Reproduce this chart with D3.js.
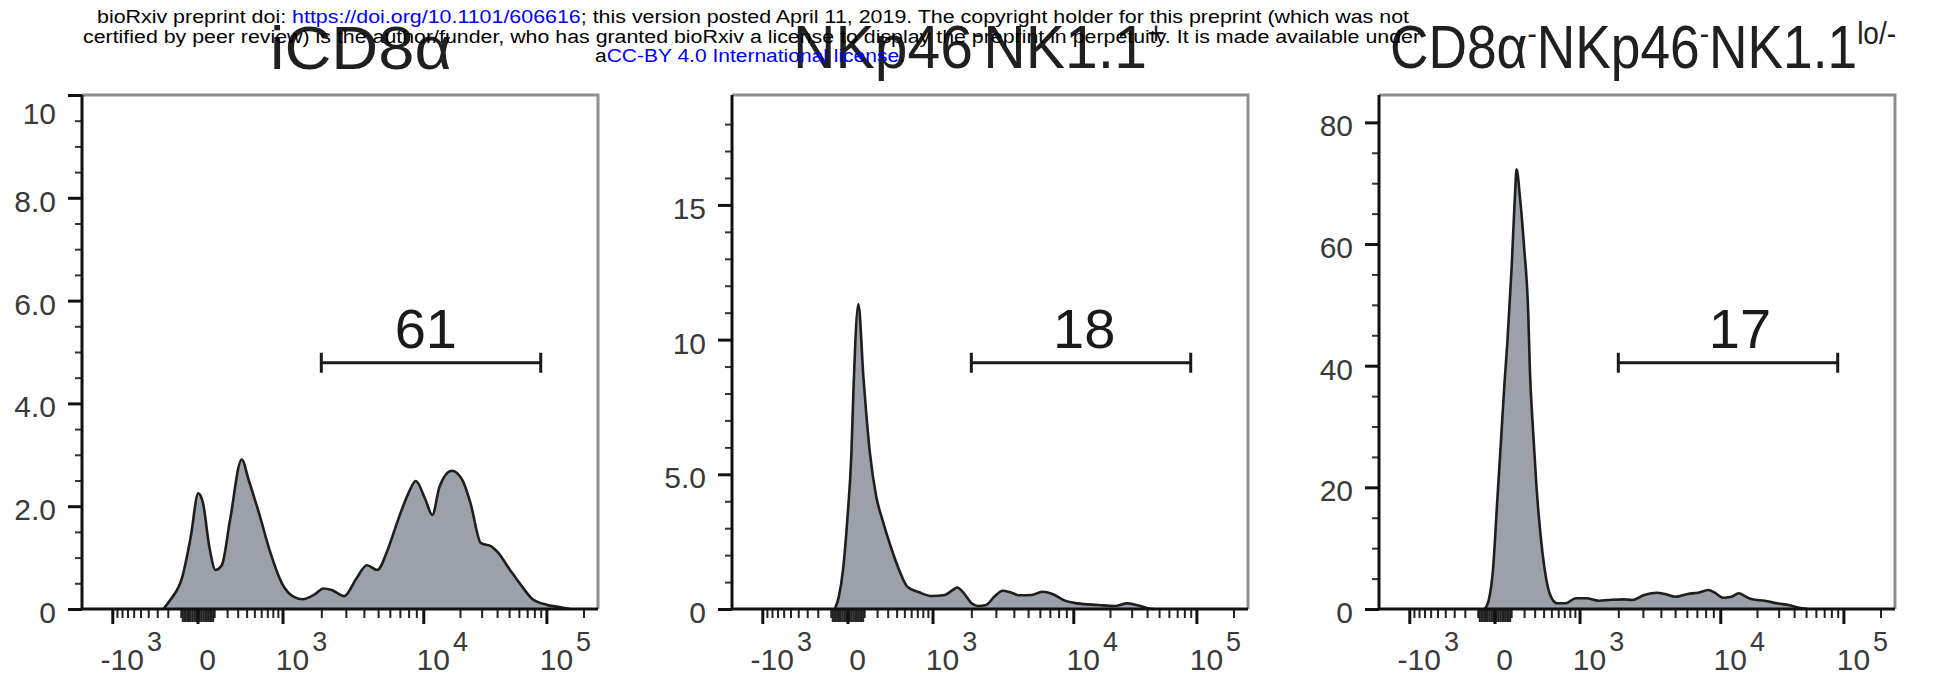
<!DOCTYPE html>
<meta charset="utf-8">
<style>
body { margin: 0; background: #fff; }
svg { display: block; font-family: "Liberation Sans", Arial, sans-serif; }
</style>
<body>
<svg width="1950" height="683"></svg>
<script src="https://d3js.org/d3.v7.min.js"></script>
<script>
// histograms: fluorescence (x) and % of max (y)
var cd8Fluor = [-240, -181, -89, -37, 4, 30, 68, 110, 156, 226, 343, 427, 568, 739, 987,
  1248, 1449, 1799, 2072, 2379, 2915, 3563, 4196, 4937, 5795, 6801, 7974, 8925, 10330, 11890,
  13600, 17180, 20890, 24400, 29630, 35900, 40300, 50900, 64000, 77500, 101700, 133400, 155400];
var cd8Count = [0, 0.17, 0.63, 1.40, 2.25, 2.06, 1.21, 0.76, 0.85, 1.73, 2.91, 2.5, 1.86, 1.15, 0.50,
  0.23, 0.19, 0.29, 0.40, 0.37, 0.25, 0.60, 0.85, 0.76, 1.15, 1.73, 2.25, 2.49, 2.15, 1.83,
  2.38, 2.69, 2.51, 2.05, 1.28, 1.22, 1.11, 0.76, 0.43, 0.19, 0.08, 0.03, 0];

var nkFluor = [-73, -48, -24, -1, 21, 33, 62, 95, 142, 193, 249, 333, 431, 542, 744, 993,
  1255, 1457, 1566, 1745, 2010, 2230, 2558, 2929, 3348, 3822, 4357, 5290, 6210, 7287, 8805,
  10790, 16000, 21800, 27550, 33400, 40540, 45500];
var nkCount = [0, 0.46, 1.45, 3.30, 5.78, 8.2, 11.32, 8.6, 5.78, 4.17, 3.30, 2.31, 1.45, 0.83, 0.61, 0.48,
  0.52, 0.71, 0.80, 0.61, 0.21, 0.11, 0.15, 0.46, 0.68, 0.61, 0.51, 0.52, 0.64, 0.56, 0.31,
  0.21, 0.15, 0.11, 0.21, 0.14, 0.03, 0];

var lowFluor = [-55, -31, -8, 14, 37, 55, 75, 103, 127, 139, 165, 200, 237, 253, 277, 319, 366, 414,
  495, 586, 721, 922, 1137, 1424, 1709, 2186, 2509, 3070, 3750, 4270, 5022, 6088, 7143, 8373,
  9200, 10550, 12350, 14200, 16240, 18240, 23020, 29090, 36660, 46260, 51930];
var lowCount = [0, 1.48, 6.4, 17.4, 28.3, 36.5, 44, 56, 68, 72.3, 67.8, 59.5, 48.6, 39, 31.1, 20.1, 11.9, 6.4,
  2.0, 0.94, 0.94, 1.76, 1.76, 1.36, 1.48, 1.59, 1.48, 2.30, 2.68, 2.47, 2.02, 2.47, 2.68, 3.12,
  2.68, 1.86, 2.02, 2.58, 2.02, 1.59, 1.36, 0.94, 0.61, 0.11, 0];

// panel titles, as [text, superscript?] pieces
var titleParts = [
  [["iCD8α", 0]],
  [["NKp46", 0], ["-", 1], ["NK1.1", 0], ["+", 1]],
  [["CD8α", 0], ["-", 1], ["NKp46", 0], ["-", 1], ["NK1.1", 0], ["lo/-", 1]]
];

// gates
var gateText = ["61", "18", "17"];
var gateFrom = [2000, 2000, 2000];
var gateTo = [90000, 90000, 90000];
var gateLevel = [4.79, 9.14, 40.5];
var gateLabelAt = [10500, 12300, 14500];

// y axes
var yMax = [10, 19.08, 84.5];
var yMajor = [[0, 2, 4, 6, 8, 10], [0, 5, 10, 15], [0, 20, 40, 60, 80]];
var yLabels = [["0", "2.0", "4.0", "6.0", "8.0", "10"], ["0", "5.0", "10", "15"], ["0", "20", "40", "60", "80"]];
var yMinorStep = [0.5, 1, 5];

// x axis (biexponential, shared)
var xMajor = [-1000, 0, 1000, 10000, 100000];
var xBase = ["-10", "0", "10", "10", "10"];
var xExp = ["3", "", "3", "4", "5"];
var xBreaks = [-1000, 0, 1000, 10000, 100000, 262144];
var xBreakFrac = [0.0587, 0.2238, 0.3886, 0.6614, 0.9, 1];

var headerLines = [
  [["bioRxiv preprint doi: ", 0], ["https://doi.org/10.1101/606616", 1], ["; this version posted April 11, 2019. The copyright holder for this preprint (which was not", 0]],
  [["certified by peer review) is the author/funder, who has granted bioRxiv a license to display the preprint in perpetuity. It is made available under", 0]],
  [["a", 0], ["CC-BY 4.0 International license", 1], [".", 0]]
];

var svg = d3.select("svg"),
    W = 516, H = 514, top0 = 95,
    panelLeft = [82, 732, 1379];

var panels = [
  {fluor: cd8Fluor, count: cd8Count},
  {fluor: nkFluor, count: nkCount},
  {fluor: lowFluor, count: lowCount}
];

var x = d3.scaleSymlog().constant(300)
    .domain(xBreaks)
    .range(xBreakFrac.map(function(f) { return f * W; }));

// minor ticks for the biex axis
var xMinor = [];
[1, 2, 3].forEach(function(e) {
  for (var k = 1; k <= 9; k++) xMinor.push(-k * Math.pow(10, e));
});
[1, 2, 3, 4, 5].forEach(function(e) {
  for (var k = 1; k <= 9; k++) xMinor.push(k * Math.pow(10, e));
});
xMinor = xMinor.filter(function(v) {
  return xMajor.indexOf(v) < 0 && x(v) >= 0 && v <= 262144;
});

panels.forEach(function(p, i) {
  var g = svg.append("g").attr("transform", "translate(" + panelLeft[i] + "," + top0 + ")");
  var y = d3.scaleLinear().domain([0, yMax[i]]).range([H, 0]);
  var pts = p.fluor.map(function(v, j) { return [v, p.count[j]]; });

  // histogram
  g.append("path")
      .datum(pts)
      .attr("fill", "#9ca1a9")
      .attr("d", d3.area()
        .curve(d3.curveMonotoneX)
        .x(function(d) { return x(d[0]); })
        .y0(y(0))
        .y1(function(d) { return y(d[1]); }));
  g.append("path")
      .datum(pts)
      .attr("fill", "none")
      .attr("stroke", "#1e1e1e")
      .attr("stroke-width", 2.6)
      .attr("d", d3.line()
        .curve(d3.curveMonotoneX)
        .x(function(d) { return x(d[0]); })
        .y(function(d) { return y(d[1]); }));

  // frame
  g.append("path")
      .attr("d", "M0,0H" + W + "V" + H)
      .attr("fill", "none")
      .attr("stroke", "#8e8e8e")
      .attr("stroke-width", 3);

  // y axis
  var minors = d3.range(0, yMax[i], yMinorStep[i]).filter(function(v) {
    return yMajor[i].indexOf(v) < 0 && y(v) > 5;
  });
  g.append("g")
      .call(d3.axisLeft(y).tickValues(minors).tickSize(7).tickFormat(""))
      .call(function(a) { a.select(".domain").remove(); })
      .selectAll("line").attr("stroke", "#333").attr("stroke-width", 2);

  var ya = g.append("g")
      .call(d3.axisLeft(y).tickValues(yMajor[i]).tickSize(14).tickPadding(12)
        .tickFormat(function(d, j) { return yLabels[i][j]; }));
  ya.select(".domain").remove();
  ya.selectAll("line").attr("stroke", "#111").attr("stroke-width", 3);
  ya.selectAll("text")
      .attr("font-size", 30)
      .attr("font-family", "Liberation Sans, Arial, sans-serif")
      .attr("fill", "#3a3a3a")
      .attr("dy", function(d) { return y(d) < 10 ? "0.95em" : "0.45em"; });

  // x axis
  g.append("g")
      .attr("transform", "translate(0," + H + ")")
      .call(d3.axisBottom(x).tickValues(xMinor).tickSize(8).tickFormat(""))
      .call(function(a) { a.select(".domain").remove(); })
      .selectAll("line")
      .attr("stroke", "#222")
      .attr("stroke-width", 2)
      .attr("y2", function(d) { return Math.abs(d) < 100 ? 13 : 9; });

  var xa = g.append("g")
      .attr("transform", "translate(0," + H + ")")
      .call(d3.axisBottom(x).tickValues(xMajor).tickSize(15).tickFormat(""));
  xa.select(".domain").remove();
  xa.selectAll("line").attr("stroke", "#111").attr("stroke-width", 3);

  var lab = g.append("g")
    .selectAll("g")
    .data(xMajor)
    .join("g")
      .attr("transform", function(d) { return "translate(" + (x(d) + 10) + "," + (H + 61) + ")"; })
      .attr("fill", "#3a3a3a");
  lab.append("text")
      .attr("text-anchor", "middle")
      .attr("font-size", 30)
      .text(function(d, j) { return xBase[j]; });
  lab.append("text")
      .attr("font-size", 27)
      .attr("y", -19)
      .attr("x", function(d, j) {
        return this.parentNode.firstChild.getComputedTextLength() / 2 + 3;
      })
      .text(function(d, j) { return xExp[j]; });

  // axis lines
  g.append("path")
      .attr("d", "M0,0V" + H + "H" + W)
      .attr("fill", "none")
      .attr("stroke", "#111")
      .attr("stroke-width", 3);

  // gate
  var gy = y(gateLevel[i]);
  g.append("path")
      .attr("d", "M" + x(gateFrom[i]) + "," + gy + "H" + x(gateTo[i]) +
        "M" + x(gateFrom[i]) + "," + (gy - 10) + "V" + (gy + 10) +
        "M" + x(gateTo[i]) + "," + (gy - 10) + "V" + (gy + 10))
      .attr("fill", "none")
      .attr("stroke", "#1a1a1a")
      .attr("stroke-width", 3);
  g.append("text")
      .attr("x", x(gateLabelAt[i]))
      .attr("y", gy - 15)
      .attr("text-anchor", "middle")
      .attr("font-size", 56)
      .attr("fill", "#1a1a1a")
      .text(gateText[i]);
});

// titles
var titleStart = [270, 793, 1390],
    titleWidth = [182, 372, 506],
    titleBase = [69, 68, 68];
titleParts.forEach(function(parts, i) {
  var t = svg.append("text")
      .attr("x", titleStart[i])
      .attr("y", titleBase[i])
      .attr("font-size", 61)
      .attr("fill", "#202020")
      .attr("textLength", titleWidth[i])
      .attr("lengthAdjust", "spacingAndGlyphs");
  parts.forEach(function(s) {
    t.append("tspan")
        .attr("font-size", s[1] ? 32 : 61)
        .attr("baseline-shift", s[1] ? "75%" : null)
        .text(s[0]);
  });
});

// preprint header
var headerX = [97, 83, 595],
    headerY = [23, 43, 62],
    headerW = [1312, 1337, 310];
headerLines.forEach(function(parts, i) {
  var t = svg.append("text")
      .attr("x", headerX[i])
      .attr("y", headerY[i])
      .attr("font-size", 18)
      .attr("textLength", headerW[i])
      .attr("lengthAdjust", "spacingAndGlyphs");
  parts.forEach(function(s) {
    t.append("tspan")
        .attr("fill", s[1] ? "#0000ff" : "#000")
        .text(s[0]);
  });
});
</script>
